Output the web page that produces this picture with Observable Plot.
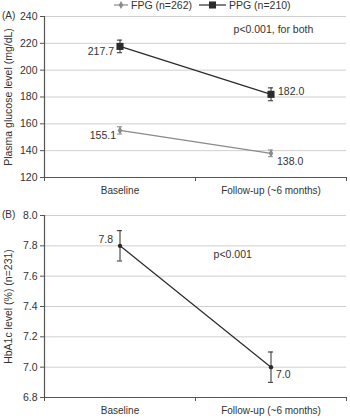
<!DOCTYPE html>
<html>
<head>
<meta charset="utf-8">
<script src="https://cdn.jsdelivr.net/npm/d3@7"></script>
<script src="https://cdn.jsdelivr.net/npm/@observablehq/plot@0.6"></script>
<style>
  body { margin: 0; background: #fff; font-family: "Liberation Sans", Arial, sans-serif; }
  #chart { position: relative; width: 350px; height: 419px; overflow: hidden; }
  .panel { position: absolute; left: 0; }
  .tag { position: absolute; left: 2px; font-size: 10px; color: #333; line-height: 1; }
  #legend { position: absolute; left: 0; top: 0; }
</style>
</head>
<body>
<div id="chart"></div>
<script>
// Time points
const timepoints = ["Baseline", "Follow-up (~6 months)"];

// Fasting plasma glucose (mg/dL), mean and SE
const fpgMean = [155.1, 138.0];
const fpgErr = [2.7, 2.5];

// Postprandial plasma glucose (mg/dL), mean and SE
const ppgMean = [217.7, 182.0];
const ppgErr = [4.7, 4.8];

// HbA1c (%), mean and SE
const hba1cMean = [7.8, 7.0];
const hba1cErr = [0.1, 0.1];

// Axis ticks
const glucoseTicks = [120, 140, 160, 180, 200, 220, 240];
const hba1cTicks = [6.8, 7.0, 7.2, 7.4, 7.6, 7.8, 8.0];

// Legend entries
const seriesNames = ["FPG (n=262)", "PPG (n=210)"];

// Significance notes
const noteA = "p<0.001, for both";
const noteB = "p<0.001";

const font = "'Liberation Sans', Arial, sans-serif";
const axisColor = "#555";
const gridColor = "#cfcfcf";
const fpgColor = "#8a8a8a";
const ppgColor = "#2b2b2b";

const rows = (means, errs) => means.map((m, i) => ({
  x: i + 0.5, t: timepoints[i], m, lo: m - errs[i], hi: m + errs[i]
}));
const fpg = rows(fpgMean, fpgErr);
const ppg = rows(ppgMean, ppgErr);
const hba = rows(hba1cMean, hba1cErr);

const capHalf = 0.017;
const errorBars = (data, color) => [
  Plot.ruleX(data, {x: "x", y1: "lo", y2: "hi", stroke: color, strokeWidth: 1}),
  Plot.ruleY(data, {y: "lo", x1: d => d.x - capHalf, x2: d => d.x + capHalf, stroke: color, strokeWidth: 1}),
  Plot.ruleY(data, {y: "hi", x1: d => d.x - capHalf, x2: d => d.x + capHalf, stroke: color, strokeWidth: 1})
];

const xAxes = () => [
  Plot.axisX([0, 1, 2], {tickSize: 4, tickFormat: () => "", stroke: axisColor, label: null}),
  Plot.axisX([0.5, 1.5], {tickSize: 0, tickPadding: 9, tickFormat: v => timepoints[v - 0.5], fill: "#333", fontSize: 10, label: null})
];

const valueLabel = (d, dx, dy, anchor) =>
  Plot.text([d], {x: "x", y: "m", text: r => r.m.toFixed(1), dx, dy, textAnchor: anchor, fill: "#333", fontSize: 10.5});

// Panel A: plasma glucose
const plotA = Plot.plot({
  width: 350, height: 200,
  marginTop: 16, marginBottom: 23, marginLeft: 44, marginRight: 4,
  style: {fontFamily: font, fontSize: "10px", color: "#333", background: "transparent"},
  x: {domain: [0, 2], axis: null},
  y: {domain: [120, 240], axis: null},
  marks: [
    Plot.gridY(glucoseTicks, {stroke: gridColor, strokeOpacity: 1}),
    Plot.axisY(glucoseTicks, {tickSize: 4, tickPadding: 3, stroke: axisColor, fill: "#333", fontSize: 10.5,
      label: "Plasma glucose level (mg/dL)", labelAnchor: "center", labelArrow: false, labelOffset: 40}),
    ...xAxes(),
    Plot.ruleX([0], {stroke: axisColor, strokeWidth: 1.2}),
    Plot.ruleY([120], {stroke: axisColor, strokeWidth: 1.2}),
    Plot.line(fpg, {x: "x", y: "m", stroke: fpgColor, strokeWidth: 1.2}),
    Plot.line(ppg, {x: "x", y: "m", stroke: ppgColor, strokeWidth: 1.2}),
    ...errorBars(fpg, fpgColor),
    ...errorBars(ppg, ppgColor),
    Plot.dot(fpg, {x: "x", y: "m", symbol: "diamond", r: 2.4, fill: fpgColor, stroke: "none"}),
    Plot.dot(ppg, {x: "x", y: "m", symbol: "square", r: 4, fill: ppgColor, stroke: "none"}),
    valueLabel(ppg[0], -6, 5, "end"),
    valueLabel(ppg[1], 7, -3, "start"),
    valueLabel(fpg[0], -4, 5, "end"),
    valueLabel(fpg[1], 6, 8, "start"),
    Plot.text([noteA], {x: 1.252, y: 230.3, text: d => d, textAnchor: "start", fill: "#333", fontSize: 10.5})
  ]
});

// Panel B: HbA1c
const plotB = Plot.plot({
  width: 350, height: 219,
  marginTop: 15, marginBottom: 22, marginLeft: 44, marginRight: 4,
  style: {fontFamily: font, fontSize: "10px", color: "#333", background: "transparent"},
  x: {domain: [0, 2], axis: null},
  y: {domain: [6.8, 8.0], axis: null},
  marks: [
    Plot.gridY(hba1cTicks, {stroke: gridColor, strokeOpacity: 1}),
    Plot.axisY(hba1cTicks, {tickSize: 4, tickPadding: 3, stroke: axisColor, fill: "#333", fontSize: 10.5,
      tickFormat: d => d.toFixed(1),
      label: "HbA1c level (%) (n=231)", labelAnchor: "center", labelArrow: false, labelOffset: 40}),
    ...xAxes(),
    Plot.ruleX([0], {stroke: axisColor, strokeWidth: 1.2}),
    Plot.ruleY([6.8], {stroke: axisColor, strokeWidth: 1.2}),
    Plot.line(hba, {x: "x", y: "m", stroke: ppgColor, strokeWidth: 1.2}),
    ...errorBars(hba, ppgColor),
    Plot.dot(hba, {x: "x", y: "m", r: 2.2, fill: ppgColor, stroke: "none"}),
    valueLabel(hba[0], -7, -6, "end"),
    valueLabel(hba[1], 5, 7, "start"),
    Plot.text([noteB], {x: 1.12, y: 7.74, text: d => d, textAnchor: "start", fill: "#333", fontSize: 10.5})
  ]
});

const chart = document.getElementById("chart");
plotA.classList.add("panel"); plotA.style.top = "0px";
plotB.classList.add("panel"); plotB.style.top = "200px";
chart.append(plotA, plotB);

// Panel tags
[["(A)", 11], ["(B)", 210]].forEach(([t, top]) => {
  const el = document.createElement("div");
  el.className = "tag"; el.textContent = t; el.style.top = top + "px";
  chart.append(el);
});

// Legend
const legend = d3.create("svg").attr("id", "legend").attr("width", 350).attr("height", 12)
  .style("font-family", font).style("font-size", "10.5px");
const items = [
  {name: seriesNames[0], x0: 114, x1: 128, color: fpgColor, sym: d3.symbolDiamond, size: 18},
  {name: seriesNames[1], x0: 199, x1: 226, color: ppgColor, sym: d3.symbolSquare, size: 50}
];
items.forEach(it => {
  legend.append("line").attr("x1", it.x0).attr("x2", it.x1).attr("y1", 5).attr("y2", 5)
    .attr("stroke", it.color).attr("stroke-width", 1.2);
  legend.append("path").attr("d", d3.symbol(it.sym, it.size)())
    .attr("transform", `translate(${(it.x0 + it.x1) / 2},5)`).attr("fill", it.color);
  legend.append("text").attr("x", it.x1 + 3).attr("y", 5).attr("dy", "0.35em")
    .attr("fill", "#333").text(it.name);
});
chart.append(legend.node());
</script>
</body>
</html>
